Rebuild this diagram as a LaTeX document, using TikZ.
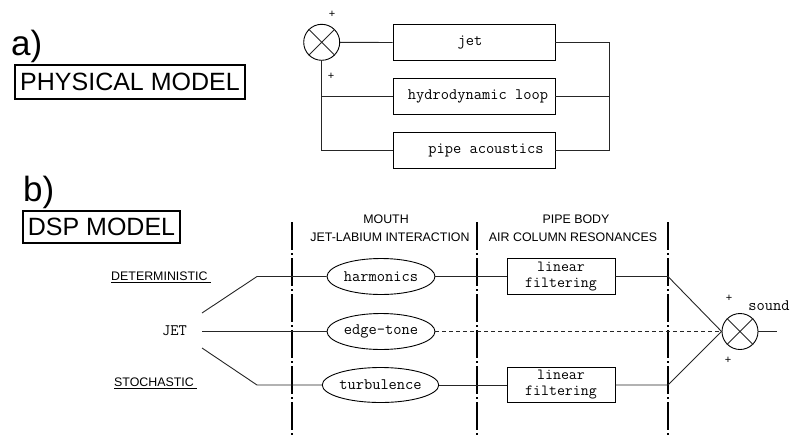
\documentclass[tikz,border=0pt]{standalone}
\usepackage{fontspec}
\setmainfont{Liberation Sans}
\usetikzlibrary{shapes.geometric}
\tikzset{
  conn/.style={line width=0.9pt, black!85},
  blockbox/.style={draw, line width=0.9pt, minimum width=162pt, minimum height=36pt, inner sep=0pt},
  filterbox/.style={draw, line width=0.9pt, minimum width=108pt, minimum height=36pt, inner sep=0pt, align=center,
     font=\ttfamily\fontsize{15.5}{16}\selectfont},
  ell/.style={draw, ellipse, line width=0.9pt, minimum width=108pt, minimum height=36pt, inner sep=0pt,
     font=\ttfamily\fontsize{16}{18}\selectfont},
  monotext/.style={inner sep=0pt, font=\ttfamily\fontsize{16}{18}\selectfont},
  smallsans/.style={inner sep=0pt, font=\fontsize{12.4}{14}\selectfont},
  plus/.style={inner sep=0pt, font=\fontsize{11}{12}\selectfont},
  bigletter/.style={inner sep=0pt, anchor=base west, font=\fontsize{35}{40}\selectfont},
  titlebox/.style={draw, line width=1.2pt, inner sep=0pt, font=\fontsize{25}{28}\selectfont},
  sumnode/.style={draw, circle, line width=0.9pt, minimum size=36pt, inner sep=0pt},
  divider/.style={line width=1.6pt, dash pattern=on 28pt off 3pt on 2pt off 3pt}
}
\begin{document}
\begin{tikzpicture}[x=1pt,y=-1pt]
\useasboundingbox (0,0) rectangle (790,437);

% ---------- a) ----------
\node[bigletter] (alab) at (11,55) {a)};
\node[titlebox, minimum width=230pt, minimum height=34pt] (phys) at (130,82) {PHYSICAL MODEL};

\node[sumnode] (sa) at (321.7,42.3) {};
\draw[conn] (sa.north west) -- (sa.south east) (sa.north east) -- (sa.south west);
\node[plus] (pa1) at (332,14) {+};
\node[plus] (pa2) at (331,76) {+};

\node[blockbox, label={[monotext, xshift=-4pt]center:jet}] (jet) at (474,42.5) {};
\node[blockbox, label={[monotext, xshift=4pt]center:hydrodynamic loop}] (hydro) at (474,96.5) {};
\node[blockbox, label={[monotext, xshift=12pt]center:pipe acoustics}] (pipe) at (474,150.5) {};

\coordinate (r1) at (609,42.5);
\coordinate (r3) at (609,150.5);
\coordinate (l3) at (321.7,150.5);
\draw[conn] (sa.east) -- (jet.west);
\draw[conn] (jet.east) -- (r1) -- (r3) -- (pipe.east);
\draw[conn] (hydro.east) -- (hydro.east -| r1);
\draw[conn] (sa.south) -- (l3) -- (pipe.west);
\draw[conn] (hydro.west) -- (hydro.west -| l3);

% ---------- b) ----------
\node[bigletter] (blab) at (23,201) {b)};
\node[titlebox, minimum width=157pt, minimum height=32pt] (dsp) at (101.5,227) {DSP MODEL};

\coordinate (v1t) at (292,222); \coordinate (v1b) at (292,437);
\coordinate (v2t) at (477,222); \coordinate (v2b) at (477,437);
\coordinate (v3t) at (668,222); \coordinate (v3b) at (668,437);
\draw[divider] (v1t) -- (v1b);
\draw[divider] (v2t) -- (v2b);
\draw[divider] (v3t) -- (v3b);

\node[smallsans] (mouth) at (386,219) {MOUTH};
\node[smallsans] (jetlab) at (390,237) {JET-LABIUM INTERACTION};
\node[smallsans] (pipebody) at (576,219) {PIPE BODY};
\node[smallsans] (aircol) at (573,237) {AIR COLUMN RESONANCES};

\node[smallsans, anchor=west] (det) at (111,277) {\underline{DETERMINISTIC\ }};
\node[smallsans, anchor=west] (sto) at (114,383) {\underline{STOCHASTIC\ }};
\node[monotext] (jetin) at (174.5,331) {JET};

\node[ell] (harm) at (381,276.5) {harmonics};
\node[ell] (edge) at (381,331.5) {edge-tone};
\node[ell, minimum height=35pt] (turb) at (380.5,385) {turbulence};

\node[filterbox] (f1) at (561,276.5) {linear\\filtering};
\node[filterbox, minimum height=35pt] (f2) at (561,385) {linear\\filtering};

\node[sumnode] (sb) at (740,331.5) {};
\draw[conn] (sb.north west) -- (sb.south east) (sb.north east) -- (sb.south west);
\node[plus] (pb1) at (729,298) {+};
\node[plus] (pb2) at (728,360) {+};
\node[monotext] (sound) at (769,306) {sound};
\coordinate (outend) at (777,331.5);

\coordinate (d0) at (202,313);
\coordinate (d1) at (257,276.5);
\coordinate (j0) at (202,331.5);
\coordinate (s0) at (202,348);
\coordinate (s1) at (257,385);
\coordinate (h3) at (668,276.5);
\coordinate (t3) at (668,385);

\draw[conn] (d0) -- (d1) -- (harm.west);
\draw[conn] (j0) -- (edge.west);
\draw[conn] (s0) -- (s1) -- (turb.west);
\draw[conn] (harm.east) -- (f1.west);
\draw[conn] (turb.east) -- (f2.west);
\draw[conn] (f1.east) -- (h3) -- (sb.west);
\draw[conn] (f2.east) -- (t3) -- (sb.west);
\draw[conn, dash pattern=on 4pt off 3pt] (edge.east) -- (sb.west);
\draw[conn] (sb.east) -- (outend);
\end{tikzpicture}
\end{document}
